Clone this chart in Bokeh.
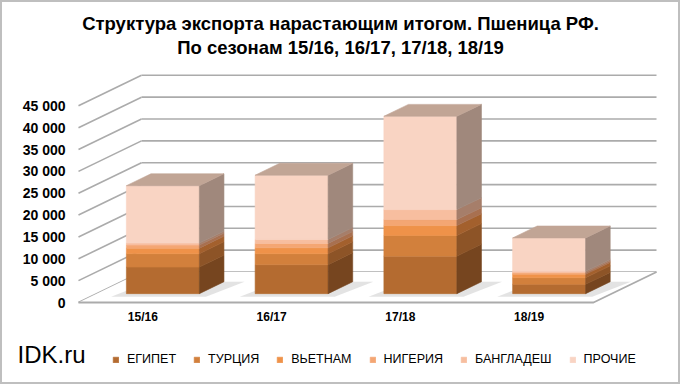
from bokeh.plotting import figure
from bokeh.models import Range1d, LinearAxis, FixedTicker, Label, Legend, LegendItem
from bokeh.embed import file_html
from bokeh.resources import INLINE

# ---------------- data ----------------
SEASONS = ["15/16", "16/17", "17/18", "18/19"]
SERIES = ["ЕГИПЕТ", "ТУРЦИЯ", "ВЬЕТНАМ", "НИГЕРИЯ", "БАНГЛАДЕШ", "ПРОЧИЕ"]
EGYPT = [6070, 6620, 8580, 2140]
TURKEY = [3060, 2510, 4720, 1500]
VIETNAM = [1280, 1370, 2280, 780]
NIGERIA = [700, 1000, 1370, 340]
BANGLADESH = [450, 900, 2280, 340]
OTHERS = [13140, 14700, 21350, 7650]
Y_TICKS = [0, 5000, 10000, 15000, 20000, 25000, 30000, 35000, 40000, 45000]
Y_TICK_LABELS = ["0", "5 000", "10 000", "15 000", "20 000", "25 000",
                 "30 000", "35 000", "40 000", "45 000"]
TITLE_LINES = ["Структура экспорта нарастающим итогом. Пшеница РФ.",
               "По сезонам 15/16, 16/17, 17/18, 18/19"]
SOURCE_TEXT = "IDK.ru"

VALUES = [EGYPT, TURKEY, VIETNAM, NIGERIA, BANGLADESH, OTHERS]

# ---------------- styles / geometry ----------------
FRONT = ["#B46B30", "#D2803C", "#EF9249", "#F4A673", "#F7BE9F", "#F9D4C3"]
SIDE = ["#76451F", "#8D5427", "#A3602D", "#A87050", "#A67E6A", "#A0887C"]
TOP = "#C1A595"
GRID = "#ABABAB"

W, H = 680, 384
PX_CAT = 128.75            # px per category on the front plane
X0_PX = 78                 # front-left floor corner, px from left
Y0_PX = 82                 # front floor level, px from bottom
UPP = 45000 / 196.7        # value units per px
DX = 63 / PX_CAT           # depth offset (categories)
DY = 30.5 * UPP            # depth offset (value units)
BAR_L, BAR_W = 0.23, 0.567
Z0, Z1 = 0.29, 0.68
NCAT = len(SEASONS)


def proj(c, v, z):
    return c + z * DX, v + z * DY


def poly(points):
    xs, ys = [], []
    for c, v, z in points:
        x, y = proj(c, v, z)
        xs.append(x)
        ys.append(y)
    return xs, ys


p = figure(width=W, height=H, output_backend="svg", toolbar_location=None,
           x_range=Range1d(-X0_PX / PX_CAT, (W - X0_PX) / PX_CAT),
           y_range=Range1d(-Y0_PX * UPP, (H - Y0_PX) * UPP),
           x_axis_location=None, y_axis_location=None, min_border=0,
           background_fill_color="white", border_fill_color="white",
           outline_line_color="#BFBFBF", outline_line_width=3)
p.grid.visible = False

# back wall gridlines
bx, by = [], []
for t in Y_TICKS:
    xs, ys = poly([(0, t, 1), (NCAT, t, 1)])
    bx.append(xs); by.append(ys)
p.multi_line(bx, by, line_color=GRID, line_width=1.6)
# left wall gridlines
lx, ly = [], []
for t in Y_TICKS:
    xs, ys = poly([(0, t, 0), (0, t, 1)])
    lx.append(xs); ly.append(ys)
p.multi_line(lx, ly, line_color=GRID, line_width=1.6)
# floor
fx, fy = poly([(0, 0, 0), (NCAT, 0, 0), (NCAT, 0, 1), (0, 0, 1)])
p.patch(fx, fy, fill_color="white", line_color=None)
ex, ey = poly([(0, 0, 0), (NCAT, 0, 0), (NCAT, 0, 1)])
p.line(ex, ey, line_color=GRID, line_width=1.8)

# shadows
sx, sy = [], []
for i in range(NCAT):
    xs, ys = poly([(i + BAR_L - 0.07, 0, Z0 - 0.1), (i + BAR_L + BAR_W + 0.1, 0, Z0 - 0.1),
                   (i + BAR_L + BAR_W + 0.16, 0, Z1), (i + BAR_L - 0.01, 0, Z1)])
    sx.append(xs); sy.append(ys)
p.patches(sx, sy, fill_color="#9A9A9A", fill_alpha=0.28, line_color=None)

# bars
front_r = []
side_x = [[] for _ in VALUES]
side_y = [[] for _ in VALUES]
front_x = [[] for _ in VALUES]
front_y = [[] for _ in VALUES]
top_x, top_y = [], []
for i in range(NCAT):
    base = 0
    l, r = i + BAR_L, i + BAR_L + BAR_W
    for k, ser in enumerate(VALUES):
        h = ser[i]
        xs, ys = poly([(l, base, Z0), (r, base, Z0), (r, base + h, Z0), (l, base + h, Z0)])
        front_x[k].append(xs); front_y[k].append(ys)
        xs, ys = poly([(r, base, Z0), (r, base, Z1), (r, base + h, Z1), (r, base + h, Z0)])
        side_x[k].append(xs); side_y[k].append(ys)
        base += h
    xs, ys = poly([(l, base, Z0), (r, base, Z0), (r, base, Z1), (l, base, Z1)])
    top_x.append(xs); top_y.append(ys)

for k in range(len(VALUES)):
    rr = p.patches(front_x[k], front_y[k], fill_color=FRONT[k], line_color=FRONT[k], line_width=0.6)
    front_r.append(rr)
    p.patches(side_x[k], side_y[k], fill_color=SIDE[k], line_color=SIDE[k], line_width=0.6)
p.patches(top_x, top_y, fill_color=TOP, line_color=TOP, line_width=0.6)

# y axis (fixed at front-left edge)
yaxis = LinearAxis(fixed_location=0, ticker=FixedTicker(ticks=Y_TICKS),
                   major_label_overrides={t: s for t, s in zip(Y_TICKS, Y_TICK_LABELS)},
                   axis_line_color=None, major_tick_line_color=None, minor_tick_line_color=None,
                   major_label_standoff=7, major_label_text_font="Liberation Sans",
                   major_label_text_font_style="bold", major_label_text_font_size="14px",
                   major_label_text_color="#000000")
p.add_layout(yaxis, "left")

# x axis (fixed at the floor front edge)
xticks = [i + 0.5 for i in range(NCAT)]
xaxis = LinearAxis(fixed_location=0, ticker=FixedTicker(ticks=xticks),
                   major_label_overrides={t: s for t, s in zip(xticks, SEASONS)},
                   axis_line_color=None, major_tick_line_color=None, minor_tick_line_color=None,
                   major_label_standoff=1, major_label_text_font="Liberation Sans",
                   major_label_text_font_style="bold", major_label_text_font_size="12px",
                   major_label_text_color="#000000")
p.add_layout(xaxis, "below")

# title
for txt, yy in zip(TITLE_LINES, [361, 337]):
    p.add_layout(Label(x=W / 2, y=yy, x_units="screen", y_units="screen", text=txt,
                       text_align="center", text_baseline="alphabetic",
                       text_font="Liberation Sans", text_font_style="bold",
                       text_font_size="18.5px", text_color="#000000"))

p.add_layout(Label(x=17, y=30, x_units="screen", y_units="screen", text=SOURCE_TEXT,
                   text_align="left", text_baseline="alphabetic",
                   text_font="Liberation Sans", text_font_size="24px", text_color="#000000"))

legend = Legend(items=[LegendItem(label=SERIES[k], renderers=[front_r[k]]) for k in range(len(SERIES))],
                orientation="horizontal", location=(112, 18), glyph_width=7, glyph_height=7,
                label_standoff=8, spacing=17, padding=0, margin=0, border_line_color=None,
                background_fill_alpha=0, label_text_font="Liberation Sans",
                label_text_font_size="12.5px", label_text_color="#000000", label_height=14)
p.add_layout(legend)

open("out.html", "w").write(file_html(p, INLINE))
